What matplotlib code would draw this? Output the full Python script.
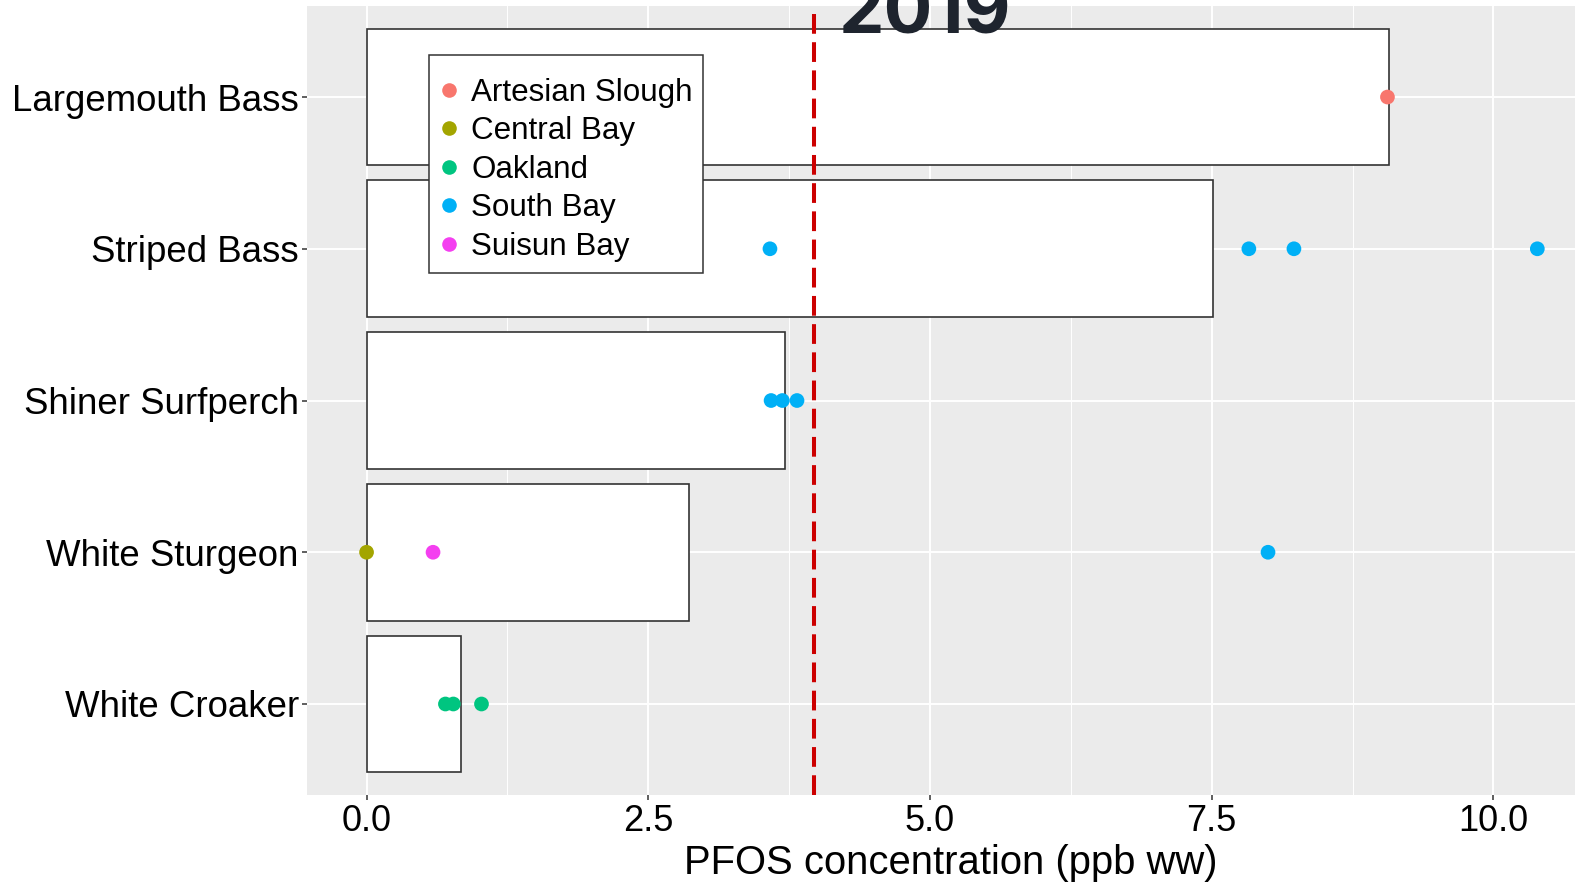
import matplotlib.pyplot as plt
from matplotlib.lines import Line2D
from matplotlib.patches import Rectangle

# especies (de arriba hacia abajo) y concentración media de PFOS por especie
especies = ["Largemouth Bass", "Striped Bass", "Shiner Surfperch",
            "White Sturgeon", "White Croaker"]
media_pfos = [9.07, 7.51, 3.71, 2.86, 0.84]

# muestras individuales: especie, sitio y concentración (ppb ww)
muestra_especie = ["Largemouth Bass",
                   "Striped Bass", "Striped Bass", "Striped Bass", "Striped Bass",
                   "Shiner Surfperch", "Shiner Surfperch", "Shiner Surfperch",
                   "White Sturgeon", "White Sturgeon", "White Sturgeon",
                   "White Croaker", "White Croaker", "White Croaker"]
muestra_sitio = ["Artesian Slough",
                 "South Bay", "South Bay", "South Bay", "South Bay",
                 "South Bay", "South Bay", "South Bay",
                 "Central Bay", "Suisun Bay", "South Bay",
                 "Oakland", "Oakland", "Oakland"]
muestra_pfos = [9.06,
                3.58, 7.83, 8.23, 10.39,
                3.59, 3.69, 3.82,
                0.0, 0.59, 8.0,
                0.70, 0.77, 1.02]

sitios = ["Artesian Slough", "Central Bay", "Oakland", "South Bay", "Suisun Bay"]
colores = ["#F8766D", "#A3A500", "#00C580", "#00B0F6", "#F43FF0"]

umbral = 3.97
ticks_x = [0.0, 2.5, 5.0, 7.5, 10.0]
etiquetas_x = ["0.0", "2.5", "5.0", "7.5", "10.0"]

plt.rcParams["font.family"] = ["Liberation Sans", "DejaVu Sans"]

W, H = 1575, 882
fig = plt.figure(figsize=(W / 100, H / 100), dpi=100)
ax = fig.add_axes([0.1951, 0.0986, 0.8189, 0.8946])
ax.set_facecolor("#EBEBEB")

pos = {e: len(especies) - i for i, e in enumerate(especies)}
y_especies = [pos[e] for e in especies]

ax.barh(y_especies, media_pfos, height=0.9, color="white",
        edgecolor="#333333", linewidth=1.2, zorder=2)

color_sitio = dict(zip(sitios, colores))
ax.scatter(muestra_pfos, [pos[e] for e in muestra_especie],
           c=[color_sitio[s] for s in muestra_sitio], s=112,
           linewidths=0, zorder=4)

ax.axvline(umbral, color="#CC0000", linewidth=2.9, dashes=(4.9, 2.1), zorder=3)

ax.set_xlim(-0.526, 10.92)
ax.set_ylim(0.4, 5.6)
ax.set_xticks(ticks_x)
ax.set_xticklabels(etiquetas_x)
ax.set_xticks([1.25, 3.75, 6.25, 8.75], minor=True)
ax.set_yticks(y_especies)
ax.set_yticklabels(especies)

ax.set_axisbelow(True)
ax.grid(which="major", color="white", linewidth=1.4)
ax.grid(which="minor", axis="x", color="white", linewidth=0.7)
for s in ax.spines.values():
    s.set_visible(False)
ax.tick_params(which="major", colors="#333333", length=3.6, width=1.1,
               labelsize=26, labelcolor="black", pad=2.5)
ax.tick_params(axis="y", labelsize=26.4)
ax.tick_params(which="minor", length=0)

fig.text(951 / W, 1 - 874 / H, "PFOS concentration (ppb ww)",
         ha="center", va="baseline", fontsize=28.8)

# recuadro de la leyenda dibujado aparte para controlar sus márgenes
caja = Rectangle((429 / W, 1 - 273 / H), 274 / W, 218 / H,
                 transform=fig.transFigure, facecolor="white",
                 edgecolor="#333333", linewidth=1.1, zorder=4.5, clip_on=False)
ax.add_patch(caja)

handles = [Line2D([], [], marker="o", linestyle="none", markersize=10.5,
                  markerfacecolor=c, markeredgewidth=0) for c in colores]
leg = ax.legend(handles, sitios, loc="upper left",
                bbox_to_anchor=(429 / W, 1 - 60 / H),
                bbox_transform=fig.transFigure, fontsize=22.6,
                frameon=False, borderpad=0.57, labelspacing=0.27,
                handlelength=0.15, handletextpad=0.62, borderaxespad=0)
leg.set_zorder(5)

fig.text(924 / W, 1 - 33 / H, "2019", ha="center", va="baseline",
         fontsize=52, fontweight="bold", family="Inter", color="#1E242E",
         zorder=10)

fig.savefig("out.png", dpi=100)
